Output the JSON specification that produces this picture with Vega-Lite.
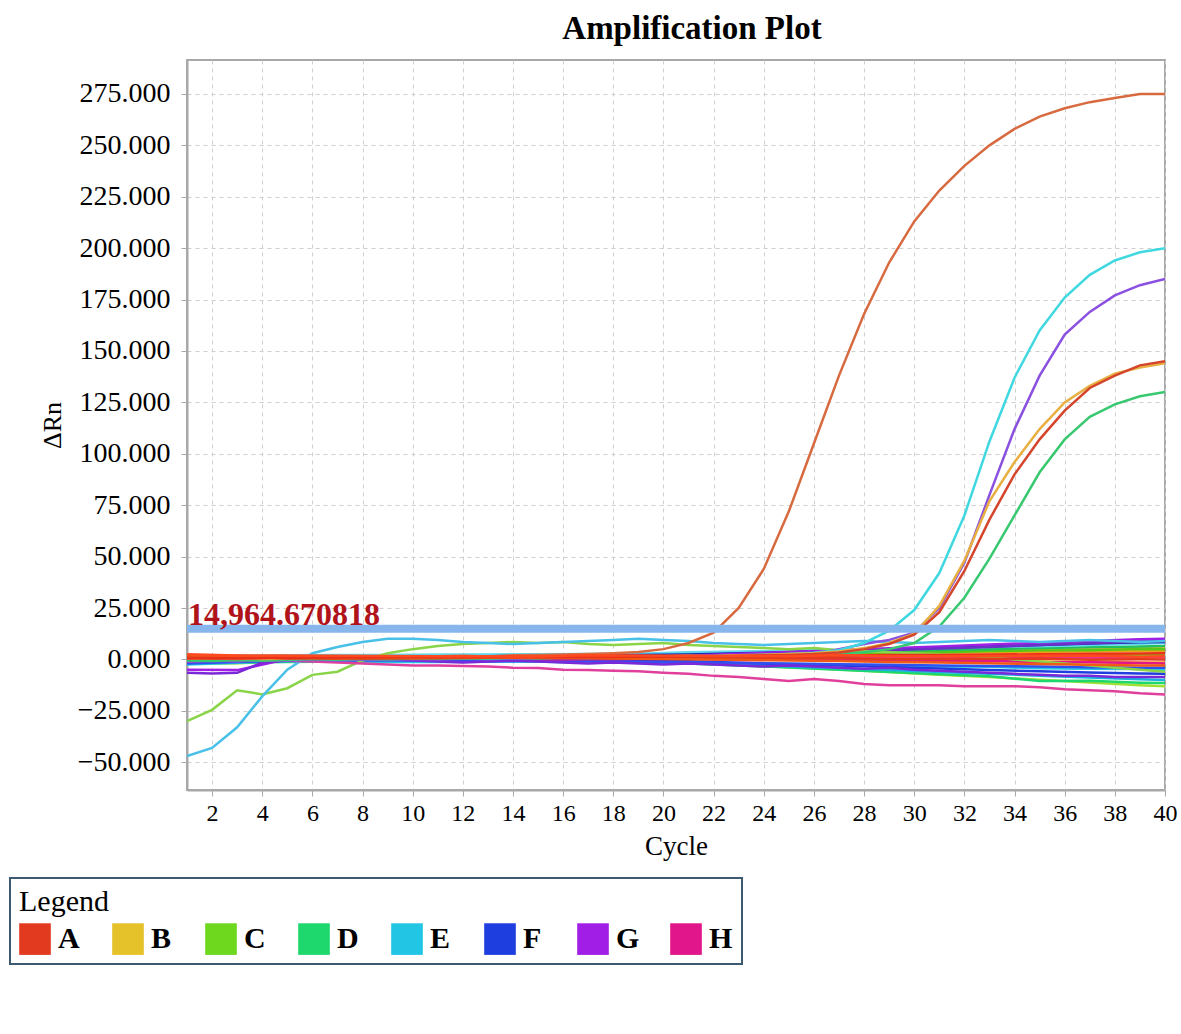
{
"$schema": "https://vega.github.io/schema/vega-lite/v6.json",
"width": 978, "height": 730,
"autosize": {"type": "none"},
"padding": {"left": 187, "top": 60, "right": 16, "bottom": 244},
"background": "white",
"title": {"text": "Amplification Plot", "font": "Liberation Serif", "fontSize": 33, "fontWeight": "bold", "color": "black", "anchor": "middle", "offset": 14, "dx": 16},
"config": {
 "view": {"stroke": "#a8a8a8", "strokeWidth": 2},
 "axis": {"labelFont": "Liberation Serif", "labelColor": "black", "titleFont": "Liberation Serif", "titleColor": "black", "titleFontWeight": "normal", "domainColor": "#a8a8a8", "domainWidth": 2, "tickColor": "#a8a8a8", "tickSize": 6, "gridColor": "#cfcfcf", "gridDash": [4, 4], "gridWidth": 1}
},
"data": {"values": [
{"w":"B2","c":1,"v":0.0},{"w":"B2","c":3,"v":0.2},{"w":"B2","c":5,"v":0.4},{"w":"B2","c":7,"v":0.5},{"w":"B2","c":9,"v":0.6},{"w":"B2","c":11,"v":0.7},{"w":"B2","c":13,"v":0.8},{"w":"B2","c":15,"v":1.0},{"w":"B2","c":17,"v":1.1},{"w":"B2","c":19,"v":1.3},{"w":"B2","c":21,"v":1.6},{"w":"B2","c":23,"v":2.1},{"w":"B2","c":25,"v":2.6},{"w":"B2","c":27,"v":3.1},{"w":"B2","c":29,"v":3.6},{"w":"B2","c":31,"v":4.1},{"w":"B2","c":33,"v":4.6},{"w":"B2","c":35,"v":5.1},{"w":"B2","c":37,"v":5.4},{"w":"B2","c":39,"v":5.7},{"w":"B2","c":40,"v":6.0},
{"w":"B3","c":1,"v":1.0},{"w":"B3","c":3,"v":0.9},{"w":"B3","c":5,"v":1.5},{"w":"B3","c":7,"v":1.4},{"w":"B3","c":9,"v":1.3},{"w":"B3","c":11,"v":1.2},{"w":"B3","c":13,"v":1.1},{"w":"B3","c":15,"v":1.7},{"w":"B3","c":17,"v":1.6},{"w":"B3","c":19,"v":1.5},{"w":"B3","c":21,"v":2.1},{"w":"B3","c":23,"v":2.3},{"w":"B3","c":25,"v":2.5},{"w":"B3","c":27,"v":2.7},{"w":"B3","c":29,"v":3.0},{"w":"B3","c":31,"v":3.2},{"w":"B3","c":33,"v":3.5},{"w":"B3","c":35,"v":3.7},{"w":"B3","c":37,"v":3.9},{"w":"B3","c":39,"v":4.1},{"w":"B3","c":40,"v":4.0},
{"w":"B4","c":1,"v":-0.5},{"w":"B4","c":3,"v":0.1},{"w":"B4","c":5,"v":0.3},{"w":"B4","c":7,"v":0.4},{"w":"B4","c":9,"v":0.5},{"w":"B4","c":11,"v":0.6},{"w":"B4","c":13,"v":0.7},{"w":"B4","c":15,"v":0.8},{"w":"B4","c":17,"v":0.9},{"w":"B4","c":19,"v":1.0},{"w":"B4","c":21,"v":1.1},{"w":"B4","c":23,"v":1.2},{"w":"B4","c":25,"v":1.4},{"w":"B4","c":27,"v":1.6},{"w":"B4","c":29,"v":1.8},{"w":"B4","c":31,"v":2.0},{"w":"B4","c":33,"v":2.2},{"w":"B4","c":35,"v":2.4},{"w":"B4","c":37,"v":2.6},{"w":"B4","c":39,"v":2.6},{"w":"B4","c":40,"v":2.5},
{"w":"B5","c":1,"v":1.5},{"w":"B5","c":3,"v":1.4},{"w":"B5","c":5,"v":1.3},{"w":"B5","c":7,"v":1.2},{"w":"B5","c":9,"v":1.1},{"w":"B5","c":11,"v":1.0},{"w":"B5","c":13,"v":0.9},{"w":"B5","c":15,"v":0.8},{"w":"B5","c":17,"v":0.7},{"w":"B5","c":19,"v":0.6},{"w":"B5","c":21,"v":0.5},{"w":"B5","c":23,"v":0.3},{"w":"B5","c":25,"v":0.1},{"w":"B5","c":27,"v":-0.1},{"w":"B5","c":29,"v":-0.4},{"w":"B5","c":31,"v":-0.6},{"w":"B5","c":33,"v":-0.8},{"w":"B5","c":35,"v":-1.0},{"w":"B5","c":37,"v":-1.3},{"w":"B5","c":39,"v":-1.5},{"w":"B5","c":40,"v":-1.5},
{"w":"C2","c":1,"v":-2.0},{"w":"C2","c":3,"v":-1.9},{"w":"C2","c":5,"v":-0.8},{"w":"C2","c":7,"v":-0.2},{"w":"C2","c":9,"v":0.0},{"w":"C2","c":11,"v":0.1},{"w":"C2","c":13,"v":0.2},{"w":"C2","c":15,"v":0.3},{"w":"C2","c":17,"v":0.4},{"w":"C2","c":19,"v":0.5},{"w":"C2","c":21,"v":0.6},{"w":"C2","c":23,"v":0.8},{"w":"C2","c":25,"v":1.0},{"w":"C2","c":27,"v":1.2},{"w":"C2","c":29,"v":1.4},{"w":"C2","c":31,"v":1.6},{"w":"C2","c":33,"v":1.8},{"w":"C2","c":35,"v":2.0},{"w":"C2","c":37,"v":2.2},{"w":"C2","c":39,"v":2.1},{"w":"C2","c":40,"v":2.0},
{"w":"C3","c":1,"v":-1.0},{"w":"C3","c":3,"v":-0.9},{"w":"C3","c":5,"v":-0.9},{"w":"C3","c":7,"v":-0.8},{"w":"C3","c":9,"v":-0.7},{"w":"C3","c":11,"v":-0.6},{"w":"C3","c":13,"v":-0.5},{"w":"C3","c":15,"v":-0.8},{"w":"C3","c":17,"v":-1.0},{"w":"C3","c":19,"v":-1.0},{"w":"C3","c":21,"v":-1.9},{"w":"C3","c":23,"v":-2.8},{"w":"C3","c":25,"v":-3.8},{"w":"C3","c":27,"v":-4.9},{"w":"C3","c":29,"v":-6.1},{"w":"C3","c":31,"v":-7.4},{"w":"C3","c":33,"v":-8.6},{"w":"C3","c":35,"v":-9.9},{"w":"C3","c":37,"v":-11.2},{"w":"C3","c":39,"v":-12.5},{"w":"C3","c":40,"v":-13.0},
{"w":"C4","c":1,"v":0.5},{"w":"C4","c":3,"v":1.1},{"w":"C4","c":5,"v":1.0},{"w":"C4","c":7,"v":0.9},{"w":"C4","c":9,"v":0.8},{"w":"C4","c":11,"v":1.4},{"w":"C4","c":13,"v":1.3},{"w":"C4","c":15,"v":1.2},{"w":"C4","c":17,"v":1.8},{"w":"C4","c":19,"v":1.7},{"w":"C4","c":21,"v":2.2},{"w":"C4","c":23,"v":2.4},{"w":"C4","c":25,"v":2.5},{"w":"C4","c":27,"v":3.1},{"w":"C4","c":29,"v":3.4},{"w":"C4","c":31,"v":3.5},{"w":"C4","c":33,"v":4.1},{"w":"C4","c":35,"v":4.4},{"w":"C4","c":37,"v":4.5},{"w":"C4","c":39,"v":5.1},{"w":"C4","c":40,"v":5.0},
{"w":"D2","c":1,"v":-1.5},{"w":"D2","c":3,"v":-1.4},{"w":"D2","c":5,"v":-1.2},{"w":"D2","c":7,"v":-1.0},{"w":"D2","c":9,"v":-0.9},{"w":"D2","c":11,"v":-0.8},{"w":"D2","c":13,"v":-0.7},{"w":"D2","c":15,"v":-0.6},{"w":"D2","c":17,"v":-1.2},{"w":"D2","c":19,"v":-1.1},{"w":"D2","c":21,"v":-2.0},{"w":"D2","c":23,"v":-2.9},{"w":"D2","c":25,"v":-3.9},{"w":"D2","c":27,"v":-5.0},{"w":"D2","c":29,"v":-6.1},{"w":"D2","c":31,"v":-7.2},{"w":"D2","c":33,"v":-8.2},{"w":"D2","c":35,"v":-10.5},{"w":"D2","c":37,"v":-10.4},{"w":"D2","c":39,"v":-11.3},{"w":"D2","c":40,"v":-11.5},
{"w":"D3","c":1,"v":0.0},{"w":"D3","c":3,"v":1.0},{"w":"D3","c":5,"v":1.8},{"w":"D3","c":7,"v":1.9},{"w":"D3","c":9,"v":2.0},{"w":"D3","c":11,"v":2.1},{"w":"D3","c":13,"v":2.2},{"w":"D3","c":15,"v":2.3},{"w":"D3","c":17,"v":2.4},{"w":"D3","c":19,"v":2.5},{"w":"D3","c":21,"v":2.7},{"w":"D3","c":23,"v":3.1},{"w":"D3","c":25,"v":3.4},{"w":"D3","c":27,"v":3.8},{"w":"D3","c":29,"v":4.2},{"w":"D3","c":31,"v":4.6},{"w":"D3","c":33,"v":5.0},{"w":"D3","c":35,"v":5.5},{"w":"D3","c":37,"v":5.9},{"w":"D3","c":39,"v":6.3},{"w":"D3","c":40,"v":6.5},
{"w":"E3","c":1,"v":-2.5},{"w":"E3","c":3,"v":-1.6},{"w":"E3","c":5,"v":-0.8},{"w":"E3","c":7,"v":-0.7},{"w":"E3","c":9,"v":-1.3},{"w":"E3","c":11,"v":-1.2},{"w":"E3","c":13,"v":-1.1},{"w":"E3","c":15,"v":-1.0},{"w":"E3","c":17,"v":-1.6},{"w":"E3","c":19,"v":-1.5},{"w":"E3","c":21,"v":-1.6},{"w":"E3","c":23,"v":-2.3},{"w":"E3","c":25,"v":-2.5},{"w":"E3","c":27,"v":-2.6},{"w":"E3","c":29,"v":-3.3},{"w":"E3","c":31,"v":-3.5},{"w":"E3","c":33,"v":-3.6},{"w":"E3","c":35,"v":-4.3},{"w":"E3","c":37,"v":-4.5},{"w":"E3","c":39,"v":-4.7},{"w":"E3","c":40,"v":-5.0},
{"w":"E4","c":1,"v":-1.0},{"w":"E4","c":3,"v":-0.9},{"w":"E4","c":5,"v":-0.8},{"w":"E4","c":7,"v":-0.7},{"w":"E4","c":9,"v":-0.6},{"w":"E4","c":11,"v":-0.5},{"w":"E4","c":13,"v":-0.4},{"w":"E4","c":15,"v":-1.0},{"w":"E4","c":17,"v":-0.9},{"w":"E4","c":19,"v":-0.8},{"w":"E4","c":21,"v":-1.6},{"w":"E4","c":23,"v":-2.5},{"w":"E4","c":25,"v":-3.4},{"w":"E4","c":27,"v":-4.3},{"w":"E4","c":29,"v":-5.2},{"w":"E4","c":31,"v":-6.1},{"w":"E4","c":33,"v":-7.0},{"w":"E4","c":35,"v":-7.9},{"w":"E4","c":37,"v":-8.8},{"w":"E4","c":39,"v":-9.7},{"w":"E4","c":40,"v":-10.0},
{"w":"E5","c":1,"v":1.0},{"w":"E5","c":3,"v":1.9},{"w":"E5","c":5,"v":2.0},{"w":"E5","c":7,"v":2.1},{"w":"E5","c":9,"v":2.2},{"w":"E5","c":11,"v":2.3},{"w":"E5","c":13,"v":2.4},{"w":"E5","c":15,"v":2.5},{"w":"E5","c":17,"v":2.6},{"w":"E5","c":19,"v":2.8},{"w":"E5","c":21,"v":3.5},{"w":"E5","c":23,"v":3.8},{"w":"E5","c":25,"v":4.3},{"w":"E5","c":27,"v":4.6},{"w":"E5","c":29,"v":5.2},{"w":"E5","c":31,"v":5.5},{"w":"E5","c":33,"v":6.1},{"w":"E5","c":35,"v":6.4},{"w":"E5","c":37,"v":7.0},{"w":"E5","c":39,"v":7.6},{"w":"E5","c":40,"v":8.0},
{"w":"F1","c":1,"v":-1.0},{"w":"F1","c":3,"v":-0.3},{"w":"F1","c":5,"v":-0.3},{"w":"F1","c":7,"v":-0.2},{"w":"F1","c":9,"v":-0.1},{"w":"F1","c":11,"v":0.0},{"w":"F1","c":13,"v":0.1},{"w":"F1","c":15,"v":0.2},{"w":"F1","c":17,"v":-0.4},{"w":"F1","c":19,"v":-0.3},{"w":"F1","c":21,"v":-0.9},{"w":"F1","c":23,"v":-1.6},{"w":"F1","c":25,"v":-2.3},{"w":"F1","c":27,"v":-3.0},{"w":"F1","c":29,"v":-3.7},{"w":"F1","c":31,"v":-4.4},{"w":"F1","c":33,"v":-5.1},{"w":"F1","c":35,"v":-5.8},{"w":"F1","c":37,"v":-6.4},{"w":"F1","c":39,"v":-6.9},{"w":"F1","c":40,"v":-7.0},
{"w":"F2","c":1,"v":0.5},{"w":"F2","c":3,"v":1.1},{"w":"F2","c":5,"v":1.2},{"w":"F2","c":7,"v":1.3},{"w":"F2","c":9,"v":1.4},{"w":"F2","c":11,"v":1.5},{"w":"F2","c":13,"v":1.6},{"w":"F2","c":15,"v":1.7},{"w":"F2","c":17,"v":1.9},{"w":"F2","c":19,"v":2.1},{"w":"F2","c":21,"v":2.4},{"w":"F2","c":23,"v":3.0},{"w":"F2","c":25,"v":3.6},{"w":"F2","c":27,"v":4.2},{"w":"F2","c":29,"v":4.9},{"w":"F2","c":31,"v":5.6},{"w":"F2","c":33,"v":6.3},{"w":"F2","c":35,"v":7.0},{"w":"F2","c":37,"v":7.7},{"w":"F2","c":39,"v":8.3},{"w":"F2","c":40,"v":8.5},
{"w":"F3","c":1,"v":-2.0},{"w":"F3","c":3,"v":-1.3},{"w":"F3","c":5,"v":-0.6},{"w":"F3","c":7,"v":-0.5},{"w":"F3","c":9,"v":-0.4},{"w":"F3","c":11,"v":-0.3},{"w":"F3","c":13,"v":-0.9},{"w":"F3","c":15,"v":-0.8},{"w":"F3","c":17,"v":-0.7},{"w":"F3","c":19,"v":-1.3},{"w":"F3","c":21,"v":-1.4},{"w":"F3","c":23,"v":-1.7},{"w":"F3","c":25,"v":-2.0},{"w":"F3","c":27,"v":-2.3},{"w":"F3","c":29,"v":-2.6},{"w":"F3","c":31,"v":-2.9},{"w":"F3","c":33,"v":-3.2},{"w":"F3","c":35,"v":-3.5},{"w":"F3","c":37,"v":-3.8},{"w":"F3","c":39,"v":-4.0},{"w":"F3","c":40,"v":-4.0},
{"w":"G3","c":1,"v":-5.0},{"w":"G3","c":3,"v":-5.2},{"w":"G3","c":5,"v":0.2},{"w":"G3","c":7,"v":0.2},{"w":"G3","c":9,"v":0.3},{"w":"G3","c":11,"v":0.4},{"w":"G3","c":13,"v":0.5},{"w":"G3","c":15,"v":0.6},{"w":"G3","c":17,"v":0.8},{"w":"G3","c":19,"v":1.0},{"w":"G3","c":21,"v":1.8},{"w":"G3","c":23,"v":2.7},{"w":"G3","c":25,"v":3.6},{"w":"G3","c":27,"v":4.5},{"w":"G3","c":29,"v":5.4},{"w":"G3","c":31,"v":6.3},{"w":"G3","c":33,"v":7.2},{"w":"G3","c":35,"v":8.1},{"w":"G3","c":37,"v":9.0},{"w":"G3","c":39,"v":9.8},{"w":"G3","c":40,"v":10.0},
{"w":"G4","c":1,"v":-0.5},{"w":"G4","c":3,"v":0.3},{"w":"G4","c":5,"v":0.4},{"w":"G4","c":7,"v":0.5},{"w":"G4","c":9,"v":0.6},{"w":"G4","c":11,"v":0.7},{"w":"G4","c":13,"v":0.8},{"w":"G4","c":15,"v":0.9},{"w":"G4","c":17,"v":1.0},{"w":"G4","c":19,"v":1.1},{"w":"G4","c":21,"v":1.3},{"w":"G4","c":23,"v":2.1},{"w":"G4","c":25,"v":2.9},{"w":"G4","c":27,"v":3.7},{"w":"G4","c":29,"v":4.5},{"w":"G4","c":31,"v":5.3},{"w":"G4","c":33,"v":6.1},{"w":"G4","c":35,"v":7.0},{"w":"G4","c":37,"v":7.9},{"w":"G4","c":39,"v":8.7},{"w":"G4","c":40,"v":9.0},
{"w":"H2","c":1,"v":0.0},{"w":"H2","c":3,"v":0.1},{"w":"H2","c":5,"v":0.2},{"w":"H2","c":7,"v":0.3},{"w":"H2","c":9,"v":0.4},{"w":"H2","c":11,"v":0.5},{"w":"H2","c":13,"v":0.6},{"w":"H2","c":15,"v":0.0},{"w":"H2","c":17,"v":0.1},{"w":"H2","c":19,"v":0.2},{"w":"H2","c":21,"v":0.3},{"w":"H2","c":23,"v":-0.3},{"w":"H2","c":25,"v":-0.2},{"w":"H2","c":27,"v":-0.1},{"w":"H2","c":29,"v":-0.7},{"w":"H2","c":31,"v":-0.6},{"w":"H2","c":33,"v":-0.6},{"w":"H2","c":35,"v":-1.3},{"w":"H2","c":37,"v":-1.4},{"w":"H2","c":39,"v":-1.8},{"w":"H2","c":40,"v":-2.0},
{"w":"H3","c":1,"v":1.0},{"w":"H3","c":3,"v":1.1},{"w":"H3","c":5,"v":1.2},{"w":"H3","c":7,"v":0.6},{"w":"H3","c":9,"v":0.7},{"w":"H3","c":11,"v":0.8},{"w":"H3","c":13,"v":0.9},{"w":"H3","c":15,"v":1.0},{"w":"H3","c":17,"v":1.1},{"w":"H3","c":19,"v":0.5},{"w":"H3","c":21,"v":0.6},{"w":"H3","c":23,"v":0.7},{"w":"H3","c":25,"v":0.8},{"w":"H3","c":27,"v":0.9},{"w":"H3","c":29,"v":1.0},{"w":"H3","c":31,"v":1.1},{"w":"H3","c":33,"v":1.2},{"w":"H3","c":35,"v":0.6},{"w":"H3","c":37,"v":0.7},{"w":"H3","c":39,"v":0.9},{"w":"H3","c":40,"v":1.0},
{"w":"C1","c":1,"v":-30},{"w":"C1","c":2,"v":-24.5},{"w":"C1","c":3,"v":-15},{"w":"C1","c":4,"v":-17},{"w":"C1","c":5,"v":-14},{"w":"C1","c":6,"v":-7.5},{"w":"C1","c":7,"v":-6},{"w":"C1","c":8,"v":-0.5},{"w":"C1","c":9,"v":3},{"w":"C1","c":10,"v":5},{"w":"C1","c":11,"v":6.5},{"w":"C1","c":12,"v":7.5},{"w":"C1","c":13,"v":8},{"w":"C1","c":14,"v":8.5},{"w":"C1","c":15,"v":8},{"w":"C1","c":16,"v":8.5},{"w":"C1","c":17,"v":7.5},{"w":"C1","c":18,"v":7},{"w":"C1","c":19,"v":7.5},{"w":"C1","c":20,"v":8},{"w":"C1","c":21,"v":7},{"w":"C1","c":22,"v":6.5},{"w":"C1","c":23,"v":6},{"w":"C1","c":24,"v":5.5},{"w":"C1","c":25,"v":5},{"w":"C1","c":26,"v":5.5},{"w":"C1","c":27,"v":4.5},{"w":"C1","c":28,"v":4},{"w":"C1","c":29,"v":3.5},{"w":"C1","c":30,"v":3},{"w":"C1","c":31,"v":2.5},{"w":"C1","c":32,"v":2},{"w":"C1","c":33,"v":1},{"w":"C1","c":34,"v":0},{"w":"C1","c":35,"v":-1},{"w":"C1","c":36,"v":-2},{"w":"C1","c":37,"v":-3},{"w":"C1","c":38,"v":-4},{"w":"C1","c":39,"v":-5},{"w":"C1","c":40,"v":-6},
{"w":"E2","c":1,"v":-47},{"w":"E2","c":2,"v":-43},{"w":"E2","c":3,"v":-33},{"w":"E2","c":4,"v":-18},{"w":"E2","c":5,"v":-5},{"w":"E2","c":6,"v":3},{"w":"E2","c":7,"v":6},{"w":"E2","c":8,"v":8.5},{"w":"E2","c":9,"v":10},{"w":"E2","c":10,"v":10},{"w":"E2","c":11,"v":9.5},{"w":"E2","c":12,"v":8.5},{"w":"E2","c":13,"v":8},{"w":"E2","c":14,"v":7.5},{"w":"E2","c":15,"v":8},{"w":"E2","c":16,"v":8.5},{"w":"E2","c":17,"v":9},{"w":"E2","c":18,"v":9.5},{"w":"E2","c":19,"v":10},{"w":"E2","c":20,"v":9.5},{"w":"E2","c":21,"v":9},{"w":"E2","c":22,"v":8},{"w":"E2","c":23,"v":7.5},{"w":"E2","c":24,"v":7},{"w":"E2","c":25,"v":7.5},{"w":"E2","c":26,"v":8},{"w":"E2","c":27,"v":8.5},{"w":"E2","c":28,"v":9},{"w":"E2","c":29,"v":8.5},{"w":"E2","c":30,"v":8},{"w":"E2","c":31,"v":8.5},{"w":"E2","c":32,"v":9},{"w":"E2","c":33,"v":9.5},{"w":"E2","c":34,"v":9},{"w":"E2","c":35,"v":8.5},{"w":"E2","c":36,"v":9},{"w":"E2","c":37,"v":9.5},{"w":"E2","c":38,"v":9},{"w":"E2","c":39,"v":8.5},{"w":"E2","c":40,"v":9},
{"w":"G2","c":1,"v":-6.5},{"w":"G2","c":2,"v":-6.8},{"w":"G2","c":3,"v":-6.5},{"w":"G2","c":4,"v":-1.5},{"w":"G2","c":5,"v":-0.5},{"w":"G2","c":6,"v":0},{"w":"G2","c":7,"v":0.5},{"w":"G2","c":8,"v":0.3},{"w":"G2","c":9,"v":0},{"w":"G2","c":10,"v":-0.5},{"w":"G2","c":11,"v":-1},{"w":"G2","c":12,"v":-1.5},{"w":"G2","c":13,"v":-1},{"w":"G2","c":14,"v":-0.5},{"w":"G2","c":15,"v":-1},{"w":"G2","c":16,"v":-1.5},{"w":"G2","c":17,"v":-2},{"w":"G2","c":18,"v":-1.5},{"w":"G2","c":19,"v":-2},{"w":"G2","c":20,"v":-2.5},{"w":"G2","c":21,"v":-2},{"w":"G2","c":22,"v":-2.5},{"w":"G2","c":23,"v":-3},{"w":"G2","c":24,"v":-3.5},{"w":"G2","c":25,"v":-3},{"w":"G2","c":26,"v":-3.5},{"w":"G2","c":27,"v":-4},{"w":"G2","c":28,"v":-4.5},{"w":"G2","c":29,"v":-4},{"w":"G2","c":30,"v":-5},{"w":"G2","c":31,"v":-5.5},{"w":"G2","c":32,"v":-6},{"w":"G2","c":33,"v":-6.5},{"w":"G2","c":34,"v":-7},{"w":"G2","c":35,"v":-7.5},{"w":"G2","c":36,"v":-8},{"w":"G2","c":37,"v":-8},{"w":"G2","c":38,"v":-8.5},{"w":"G2","c":39,"v":-8.5},{"w":"G2","c":40,"v":-8.5},
{"w":"H1","c":1,"v":-1},{"w":"H1","c":2,"v":-0.5},{"w":"H1","c":3,"v":-0.8},{"w":"H1","c":4,"v":-0.3},{"w":"H1","c":5,"v":-0.6},{"w":"H1","c":6,"v":-1},{"w":"H1","c":7,"v":-1.5},{"w":"H1","c":8,"v":-2},{"w":"H1","c":9,"v":-2.5},{"w":"H1","c":10,"v":-3},{"w":"H1","c":11,"v":-3},{"w":"H1","c":12,"v":-3.2},{"w":"H1","c":13,"v":-3.5},{"w":"H1","c":14,"v":-4},{"w":"H1","c":15,"v":-4.2},{"w":"H1","c":16,"v":-5},{"w":"H1","c":17,"v":-5.2},{"w":"H1","c":18,"v":-5.5},{"w":"H1","c":19,"v":-5.8},{"w":"H1","c":20,"v":-6.5},{"w":"H1","c":21,"v":-7},{"w":"H1","c":22,"v":-8},{"w":"H1","c":23,"v":-8.5},{"w":"H1","c":24,"v":-9.5},{"w":"H1","c":25,"v":-10.5},{"w":"H1","c":26,"v":-9.5},{"w":"H1","c":27,"v":-10.5},{"w":"H1","c":28,"v":-12},{"w":"H1","c":29,"v":-12.5},{"w":"H1","c":30,"v":-12.5},{"w":"H1","c":31,"v":-12.5},{"w":"H1","c":32,"v":-13},{"w":"H1","c":33,"v":-13},{"w":"H1","c":34,"v":-13},{"w":"H1","c":35,"v":-13.5},{"w":"H1","c":36,"v":-14.5},{"w":"H1","c":37,"v":-15},{"w":"H1","c":38,"v":-15.5},{"w":"H1","c":39,"v":-16.5},{"w":"H1","c":40,"v":-17},
{"w":"G1","c":1,"v":-1.0},{"w":"G1","c":2,"v":-0.6},{"w":"G1","c":3,"v":-0.9},{"w":"G1","c":4,"v":-0.4},{"w":"G1","c":5,"v":-0.7},{"w":"G1","c":6,"v":-0.2},{"w":"G1","c":7,"v":-0.5},{"w":"G1","c":8,"v":0.0},{"w":"G1","c":9,"v":-0.3},{"w":"G1","c":10,"v":0.2},{"w":"G1","c":11,"v":0.0},{"w":"G1","c":12,"v":0.4},{"w":"G1","c":13,"v":0.1},{"w":"G1","c":14,"v":0.5},{"w":"G1","c":15,"v":0.3},{"w":"G1","c":16,"v":0.7},{"w":"G1","c":17,"v":0.4},{"w":"G1","c":18,"v":0.8},{"w":"G1","c":19,"v":0.6},{"w":"G1","c":20,"v":1.0},{"w":"G1","c":21,"v":0.8},{"w":"G1","c":22,"v":1.2},{"w":"G1","c":23,"v":1.0},{"w":"G1","c":24,"v":1.5},{"w":"G1","c":25,"v":1.8},{"w":"G1","c":26,"v":2.4},{"w":"G1","c":27,"v":5.0},{"w":"G1","c":28,"v":7.5},{"w":"G1","c":29,"v":9.5},{"w":"G1","c":30,"v":13},{"w":"G1","c":31,"v":25},{"w":"G1","c":32,"v":47},{"w":"G1","c":33,"v":80},{"w":"G1","c":34,"v":112},{"w":"G1","c":35,"v":138},{"w":"G1","c":36,"v":158},{"w":"G1","c":37,"v":169},{"w":"G1","c":38,"v":177},{"w":"G1","c":39,"v":182},{"w":"G1","c":40,"v":185},
{"w":"E1","c":1,"v":0.0},{"w":"E1","c":2,"v":0.3},{"w":"E1","c":3,"v":-0.2},{"w":"E1","c":4,"v":0.4},{"w":"E1","c":5,"v":0.1},{"w":"E1","c":6,"v":0.5},{"w":"E1","c":7,"v":0.2},{"w":"E1","c":8,"v":0.6},{"w":"E1","c":9,"v":0.3},{"w":"E1","c":10,"v":0.7},{"w":"E1","c":11,"v":0.5},{"w":"E1","c":12,"v":0.8},{"w":"E1","c":13,"v":0.6},{"w":"E1","c":14,"v":1.0},{"w":"E1","c":15,"v":0.8},{"w":"E1","c":16,"v":1.1},{"w":"E1","c":17,"v":0.9},{"w":"E1","c":18,"v":1.3},{"w":"E1","c":19,"v":1.1},{"w":"E1","c":20,"v":1.5},{"w":"E1","c":21,"v":1.3},{"w":"E1","c":22,"v":1.7},{"w":"E1","c":23,"v":1.9},{"w":"E1","c":24,"v":2.2},{"w":"E1","c":25,"v":2.6},{"w":"E1","c":26,"v":3.2},{"w":"E1","c":27,"v":4.5},{"w":"E1","c":28,"v":8},{"w":"E1","c":29,"v":14},{"w":"E1","c":30,"v":24},{"w":"E1","c":31,"v":42},{"w":"E1","c":32,"v":70},{"w":"E1","c":33,"v":106},{"w":"E1","c":34,"v":137},{"w":"E1","c":35,"v":160},{"w":"E1","c":36,"v":176},{"w":"E1","c":37,"v":187},{"w":"E1","c":38,"v":194},{"w":"E1","c":39,"v":198},{"w":"E1","c":40,"v":200},
{"w":"D1","c":1,"v":-0.5},{"w":"D1","c":2,"v":-0.8},{"w":"D1","c":3,"v":-0.3},{"w":"D1","c":4,"v":-0.6},{"w":"D1","c":5,"v":-0.2},{"w":"D1","c":6,"v":0.2},{"w":"D1","c":7,"v":-0.1},{"w":"D1","c":8,"v":0.3},{"w":"D1","c":9,"v":0.1},{"w":"D1","c":10,"v":0.5},{"w":"D1","c":11,"v":0.3},{"w":"D1","c":12,"v":0.6},{"w":"D1","c":13,"v":0.4},{"w":"D1","c":14,"v":0.8},{"w":"D1","c":15,"v":0.5},{"w":"D1","c":16,"v":0.9},{"w":"D1","c":17,"v":0.7},{"w":"D1","c":18,"v":1.0},{"w":"D1","c":19,"v":0.8},{"w":"D1","c":20,"v":1.2},{"w":"D1","c":21,"v":1.0},{"w":"D1","c":22,"v":1.4},{"w":"D1","c":23,"v":1.2},{"w":"D1","c":24,"v":1.6},{"w":"D1","c":25,"v":1.8},{"w":"D1","c":26,"v":2.0},{"w":"D1","c":27,"v":2.5},{"w":"D1","c":28,"v":3.5},{"w":"D1","c":29,"v":5.0},{"w":"D1","c":30,"v":8},{"w":"D1","c":31,"v":16},{"w":"D1","c":32,"v":30},{"w":"D1","c":33,"v":49},{"w":"D1","c":34,"v":70},{"w":"D1","c":35,"v":91},{"w":"D1","c":36,"v":107},{"w":"D1","c":37,"v":118},{"w":"D1","c":38,"v":124},{"w":"D1","c":39,"v":128},{"w":"D1","c":40,"v":130},
{"w":"B1","c":1,"v":0.5},{"w":"B1","c":2,"v":0.3},{"w":"B1","c":3,"v":0.6},{"w":"B1","c":4,"v":0.2},{"w":"B1","c":5,"v":0.5},{"w":"B1","c":6,"v":0.8},{"w":"B1","c":7,"v":0.4},{"w":"B1","c":8,"v":0.7},{"w":"B1","c":9,"v":1.0},{"w":"B1","c":10,"v":0.6},{"w":"B1","c":11,"v":0.9},{"w":"B1","c":12,"v":1.2},{"w":"B1","c":13,"v":0.8},{"w":"B1","c":14,"v":1.1},{"w":"B1","c":15,"v":1.4},{"w":"B1","c":16,"v":1.0},{"w":"B1","c":17,"v":1.3},{"w":"B1","c":18,"v":1.6},{"w":"B1","c":19,"v":1.2},{"w":"B1","c":20,"v":1.5},{"w":"B1","c":21,"v":1.8},{"w":"B1","c":22,"v":1.6},{"w":"B1","c":23,"v":2.0},{"w":"B1","c":24,"v":2.3},{"w":"B1","c":25,"v":2.6},{"w":"B1","c":26,"v":3.0},{"w":"B1","c":27,"v":3.8},{"w":"B1","c":28,"v":5.5},{"w":"B1","c":29,"v":8},{"w":"B1","c":30,"v":12.5},{"w":"B1","c":31,"v":26},{"w":"B1","c":32,"v":48},{"w":"B1","c":33,"v":77},{"w":"B1","c":34,"v":96},{"w":"B1","c":35,"v":112},{"w":"B1","c":36,"v":125},{"w":"B1","c":37,"v":133},{"w":"B1","c":38,"v":139},{"w":"B1","c":39,"v":142},{"w":"B1","c":40,"v":144},
{"w":"A2","c":1,"v":1.5},{"w":"A2","c":2,"v":1.2},{"w":"A2","c":3,"v":0.8},{"w":"A2","c":4,"v":1.0},{"w":"A2","c":5,"v":0.5},{"w":"A2","c":6,"v":0.8},{"w":"A2","c":7,"v":1.0},{"w":"A2","c":8,"v":0.6},{"w":"A2","c":9,"v":0.9},{"w":"A2","c":10,"v":1.2},{"w":"A2","c":11,"v":0.8},{"w":"A2","c":12,"v":1.0},{"w":"A2","c":13,"v":1.3},{"w":"A2","c":14,"v":0.9},{"w":"A2","c":15,"v":1.1},{"w":"A2","c":16,"v":1.4},{"w":"A2","c":17,"v":1.0},{"w":"A2","c":18,"v":1.2},{"w":"A2","c":19,"v":1.5},{"w":"A2","c":20,"v":1.3},{"w":"A2","c":21,"v":1.6},{"w":"A2","c":22,"v":1.4},{"w":"A2","c":23,"v":1.8},{"w":"A2","c":24,"v":2.0},{"w":"A2","c":25,"v":2.2},{"w":"A2","c":26,"v":2.6},{"w":"A2","c":27,"v":3.4},{"w":"A2","c":28,"v":5.0},{"w":"A2","c":29,"v":7.5},{"w":"A2","c":30,"v":12},{"w":"A2","c":31,"v":23},{"w":"A2","c":32,"v":43},{"w":"A2","c":33,"v":68},{"w":"A2","c":34,"v":90},{"w":"A2","c":35,"v":107},{"w":"A2","c":36,"v":121},{"w":"A2","c":37,"v":132},{"w":"A2","c":38,"v":138},{"w":"A2","c":39,"v":143},{"w":"A2","c":40,"v":145},
{"w":"A1","c":1,"v":1.0},{"w":"A1","c":2,"v":0.5},{"w":"A1","c":3,"v":0.2},{"w":"A1","c":4,"v":0.6},{"w":"A1","c":5,"v":1.0},{"w":"A1","c":6,"v":0.8},{"w":"A1","c":7,"v":0.5},{"w":"A1","c":8,"v":1.0},{"w":"A1","c":9,"v":1.4},{"w":"A1","c":10,"v":1.1},{"w":"A1","c":11,"v":1.5},{"w":"A1","c":12,"v":1.8},{"w":"A1","c":13,"v":1.4},{"w":"A1","c":14,"v":2.0},{"w":"A1","c":15,"v":2.1},{"w":"A1","c":16,"v":2.4},{"w":"A1","c":17,"v":2.6},{"w":"A1","c":18,"v":3.0},{"w":"A1","c":19,"v":3.6},{"w":"A1","c":20,"v":5.0},{"w":"A1","c":21,"v":8.0},{"w":"A1","c":22,"v":13},{"w":"A1","c":23,"v":25},{"w":"A1","c":24,"v":44},{"w":"A1","c":25,"v":72},{"w":"A1","c":26,"v":105},{"w":"A1","c":27,"v":138},{"w":"A1","c":28,"v":168},{"w":"A1","c":29,"v":193},{"w":"A1","c":30,"v":213},{"w":"A1","c":31,"v":228},{"w":"A1","c":32,"v":240},{"w":"A1","c":33,"v":250},{"w":"A1","c":34,"v":258},{"w":"A1","c":35,"v":264},{"w":"A1","c":36,"v":268},{"w":"A1","c":37,"v":271},{"w":"A1","c":38,"v":273},{"w":"A1","c":39,"v":275},{"w":"A1","c":40,"v":275},
{"w":"A3","c":1,"v":1.5},{"w":"A3","c":3,"v":1.2},{"w":"A3","c":5,"v":0.6},{"w":"A3","c":7,"v":0.4},{"w":"A3","c":9,"v":0.5},{"w":"A3","c":11,"v":0.6},{"w":"A3","c":13,"v":0.8},{"w":"A3","c":15,"v":0.7},{"w":"A3","c":17,"v":0.6},{"w":"A3","c":19,"v":0.5},{"w":"A3","c":21,"v":0.4},{"w":"A3","c":23,"v":0.5},{"w":"A3","c":25,"v":0.6},{"w":"A3","c":27,"v":0.7},{"w":"A3","c":29,"v":0.1},{"w":"A3","c":31,"v":0.2},{"w":"A3","c":33,"v":0.3},{"w":"A3","c":35,"v":0.4},{"w":"A3","c":37,"v":-0.2},{"w":"A3","c":39,"v":0.1},{"w":"A3","c":40,"v":0.0},
{"w":"A4","c":1,"v":2.0},{"w":"A4","c":3,"v":1.8},{"w":"A4","c":5,"v":0.9},{"w":"A4","c":7,"v":0.7},{"w":"A4","c":9,"v":0.8},{"w":"A4","c":11,"v":0.9},{"w":"A4","c":13,"v":1.0},{"w":"A4","c":15,"v":0.9},{"w":"A4","c":17,"v":0.8},{"w":"A4","c":19,"v":0.3},{"w":"A4","c":21,"v":0.1},{"w":"A4","c":23,"v":-0.2},{"w":"A4","c":25,"v":-0.5},{"w":"A4","c":27,"v":-0.8},{"w":"A4","c":29,"v":-1.2},{"w":"A4","c":31,"v":-1.5},{"w":"A4","c":33,"v":-1.9},{"w":"A4","c":35,"v":-2.2},{"w":"A4","c":37,"v":-2.6},{"w":"A4","c":39,"v":-2.9},{"w":"A4","c":40,"v":-3.0},
{"w":"A5","c":1,"v":0.5},{"w":"A5","c":3,"v":0.6},{"w":"A5","c":5,"v":0.8},{"w":"A5","c":7,"v":0.9},{"w":"A5","c":9,"v":1.0},{"w":"A5","c":11,"v":1.1},{"w":"A5","c":13,"v":1.3},{"w":"A5","c":15,"v":1.2},{"w":"A5","c":17,"v":1.2},{"w":"A5","c":19,"v":1.3},{"w":"A5","c":21,"v":1.5},{"w":"A5","c":23,"v":1.6},{"w":"A5","c":25,"v":1.8},{"w":"A5","c":27,"v":1.9},{"w":"A5","c":29,"v":2.1},{"w":"A5","c":31,"v":2.2},{"w":"A5","c":33,"v":2.4},{"w":"A5","c":35,"v":2.5},{"w":"A5","c":37,"v":2.7},{"w":"A5","c":39,"v":2.9},{"w":"A5","c":40,"v":3.0},
{"w":"A6","c":1,"v":2.5},{"w":"A6","c":3,"v":1.9},{"w":"A6","c":5,"v":1.9},{"w":"A6","c":7,"v":1.8},{"w":"A6","c":9,"v":1.7},{"w":"A6","c":11,"v":1.6},{"w":"A6","c":13,"v":1.5},{"w":"A6","c":15,"v":1.4},{"w":"A6","c":17,"v":2.0},{"w":"A6","c":19,"v":1.9},{"w":"A6","c":21,"v":1.8},{"w":"A6","c":23,"v":1.7},{"w":"A6","c":25,"v":1.6},{"w":"A6","c":27,"v":2.2},{"w":"A6","c":29,"v":1.5},{"w":"A6","c":31,"v":1.6},{"w":"A6","c":33,"v":1.7},{"w":"A6","c":35,"v":1.8},{"w":"A6","c":37,"v":1.9},{"w":"A6","c":39,"v":1.3},{"w":"A6","c":40,"v":1.5}
]},
"layer": [
 {"mark": {"type": "line", "strokeWidth": 2.5, "clip": true},
  "encoding": {
   "x": {"field": "c", "type": "quantitative", "scale": {"domain": [1, 40], "nice": false, "zero": false},
         "axis": {"values": [2,4,6,8,10,12,14,16,18,20,22,24,26,28,30,32,34,36,38,40], "title": "Cycle", "labelFontSize": 24, "titleFontSize": 27, "labelPadding": 5, "titlePadding": 8, "labelFlush": false}},
   "y": {"field": "v", "type": "quantitative", "scale": {"domain": [-63.5, 291.5], "nice": false, "zero": false},
         "axis": {"values": [-50,-25,0,25,50,75,100,125,150,175,200,225,250,275], "format": ".3f", "title": "ΔRn", "labelFontSize": 28, "titleFontSize": 26, "labelPadding": 11, "titlePadding": 12}},
   "color": {"field": "w", "type": "nominal",
     "scale": {"domain": ["A1","A2","A3","A4","A5","A6","B1","B2","B3","B4","B5","C1","C2","C3","C4","D1","D2","D3","E1","E2","E3","E4","E5","F1","F2","F3","G1","G2","G3","G4","H1","H2","H3"],
               "range": ["#d86a40","#d4452c","#e23a1e","#f05a14","#e8301a","#ff4a20","#e8b040","#e6c22a","#f0a018","#f5d820","#ff9020","#8ad448","#6ed81e","#a0e030","#58c818","#38c870","#1ed86e","#20c060","#40d8e0","#48c0e8","#22c6e4","#18b0e0","#60d8f0","#1e3ee0","#1828b0","#3050f0","#8a50e0","#7a28d8","#a01ee6","#6a30c8","#e0409c","#e0168a","#f03090"]},
     "legend": {"orient": "none", "legendX": -177, "legendY": 818, "direction": "horizontal", "columns": 8,
       "values": ["A3","B2","C2","D2","E3","F1","G3","H2"], "labelExpr": "substring(datum.label, 0, 1)",
       "title": "Legend", "titleFont": "Liberation Serif", "titleFontSize": 30, "titleFontWeight": "normal", "titleColor": "black", "titlePadding": 6,
       "labelFont": "Liberation Serif", "labelFontSize": 30, "labelFontWeight": "bold", "labelColor": "black", "labelOffset": 7,
       "symbolType": "square", "symbolSize": 1000, "symbolStrokeWidth": 0, "columnPadding": 30, "padding": 9, "strokeColor": "#3b5a70", "gridAlign": "all",
       "encode": {"symbols": {"update": {"fill": {"signal": "scale('color', datum.value)"}, "fillOpacity": {"value": 1}}}, "legend": {"update": {"strokeWidth": {"value": 2}}}}}}
  }},
 {"data": {"values": [{"t": 14.965, "label": "14,964.670818"}]},
  "mark": {"type": "rule", "color": "#86b6ec", "strokeWidth": 8},
  "encoding": {"y": {"field": "t", "type": "quantitative"}}},
 {"data": {"values": [{"t": 14.965, "c": 1, "label": "14,964.670818"}]},
  "mark": {"type": "text", "font": "Liberation Serif", "fontSize": 32, "fontWeight": "bold", "color": "#b0141a", "align": "left", "baseline": "alphabetic", "dx": 1, "dy": -4},
  "encoding": {"x": {"field": "c", "type": "quantitative"}, "y": {"field": "t", "type": "quantitative"}, "text": {"field": "label"}}}
]
}
